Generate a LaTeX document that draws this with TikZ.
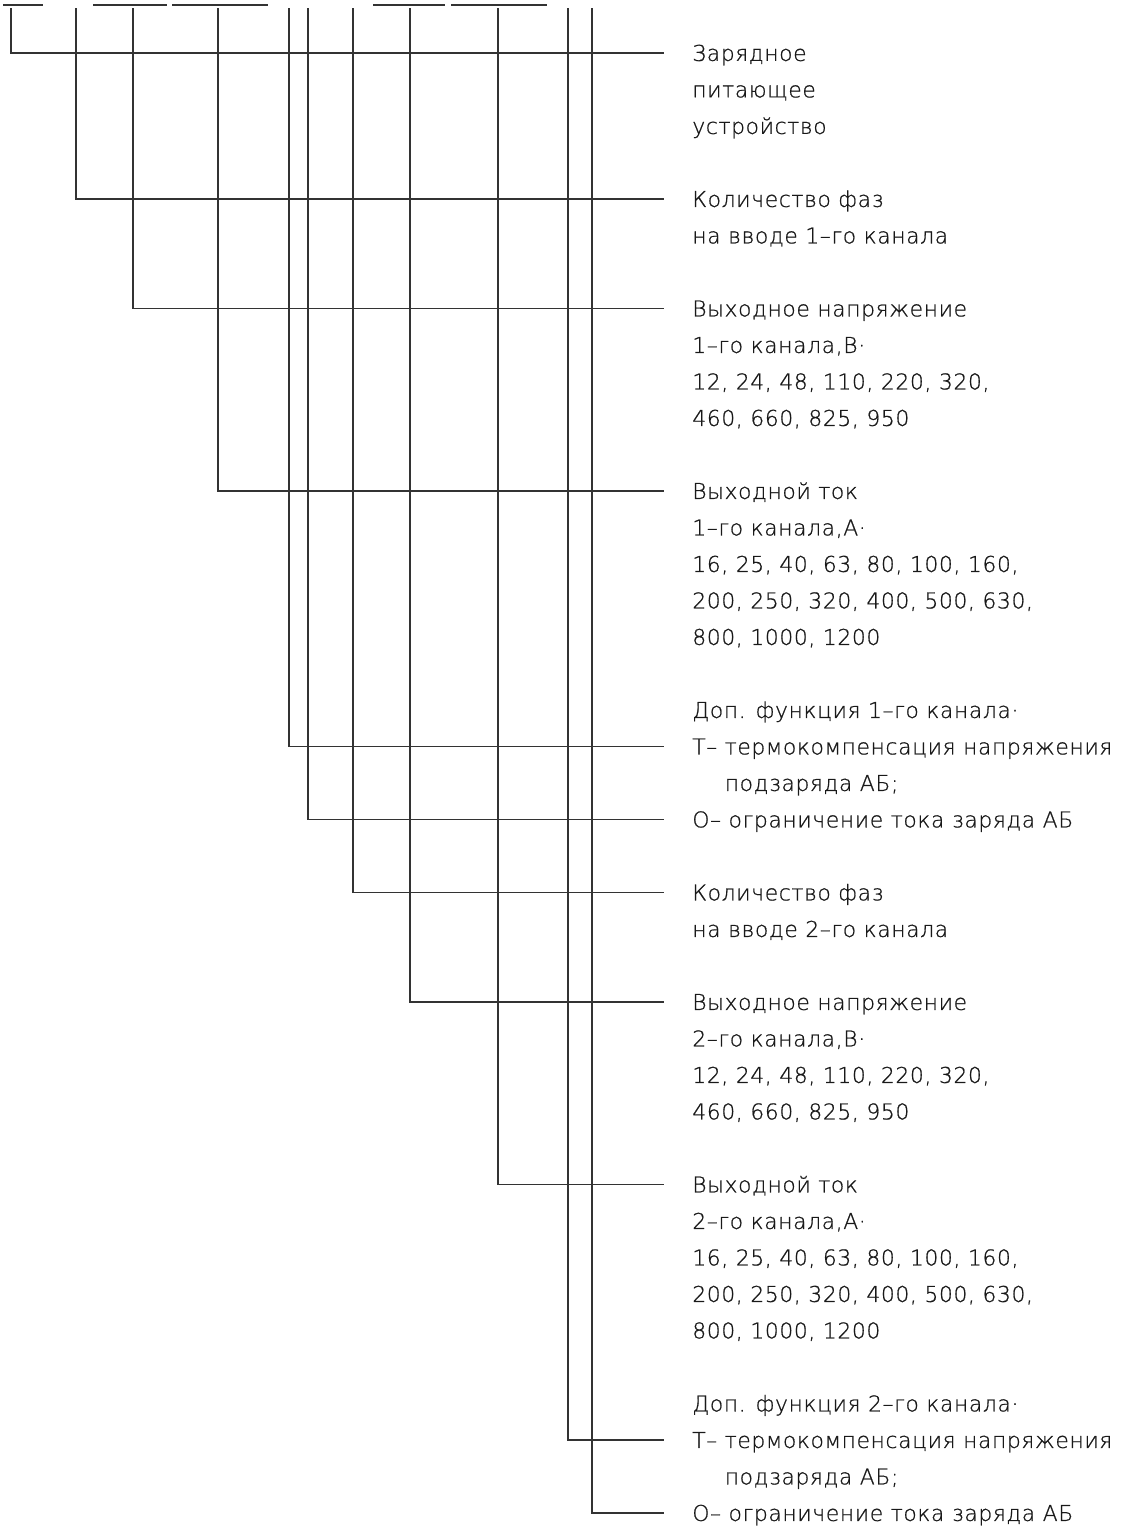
\documentclass[tikz,border=0pt]{standalone}
\usepackage{fontspec}
\setmainfont{DejaVu Sans ExtraLight}[LetterSpace=3, FakeBold=0.8]
\usetikzlibrary{positioning}
\def\Lx{664}
\def\Top{53}
\def\Step{36.5}
\def\Vtop{8}
\def\Ulny{5}

\tikzset{
  wire/.style={draw=black!80, line width=0.75pt},
  lbl/.style={anchor=west, inner xsep=0.56cm, inner ysep=0pt, text height=9pt, text depth=0pt,
    font=\fontsize{12.4}{14}\selectfont, text=black!90}
}

\begin{document}
\begin{tikzpicture}[x=0.02cm, y=-0.02cm]
\useasboundingbox (0,0) rectangle (1120,1529);

% underlines of the cut designation
\foreach \a/\b in {3/43, 93/167, 172/268, 373/445, 451/547}
  \draw[wire] (\a,\Ulny) -- (\b,\Ulny);

% channel 1
\node[lbl] (zpu) at (\Lx, \Top) {Зарядное};
\node[lbl] at (\Lx, {\Top+1*\Step}) {питающее};
\node[lbl] at (\Lx, {\Top+2*\Step}) {устройство};

\node[lbl] (phA) at (\Lx, {\Top+4*\Step}) {Количество фаз};
\node[lbl] at (\Lx, {\Top+5*\Step}) {на вводе 1–го канала};

\node[lbl] (uA) at (\Lx, {\Top+7*\Step}) {Выходное напряжение};
\node[lbl] at (\Lx, {\Top+8*\Step}) {1–го канала,В·};
\node[lbl] at (\Lx, {\Top+9*\Step}) {12, 24, 48, 110, 220, 320,};
\node[lbl] at (\Lx, {\Top+10*\Step}) {460, 660, 825, 950};

\node[lbl] (iA) at (\Lx, {\Top+12*\Step}) {Выходной ток};
\node[lbl] at (\Lx, {\Top+13*\Step}) {1–го канала,А·};
\node[lbl] at (\Lx, {\Top+14*\Step}) {16, 25, 40, 63, 80, 100, 160,};
\node[lbl] at (\Lx, {\Top+15*\Step}) {200, 250, 320, 400, 500, 630,};
\node[lbl] at (\Lx, {\Top+16*\Step}) {800, 1000, 1200};

\node[lbl] at (\Lx, {\Top+18*\Step}) {Доп. функция 1–го канала·};
\node[lbl] (fAt) at (\Lx, {\Top+19*\Step}) {Т– термокомпенсация напряжения};
\node[lbl] at (\Lx, {\Top+20*\Step}) {\hphantom{Т–}\ подзаряда АБ;};
\node[lbl] (fAo) at (\Lx, {\Top+21*\Step}) {О– ограничение тока заряда АБ};

% channel 2
\node[lbl] (phB) at (\Lx, {\Top+23*\Step}) {Количество фаз};
\node[lbl] at (\Lx, {\Top+24*\Step}) {на вводе 2–го канала};

\node[lbl] (uB) at (\Lx, {\Top+26*\Step}) {Выходное напряжение};
\node[lbl] at (\Lx, {\Top+27*\Step}) {2–го канала,В·};
\node[lbl] at (\Lx, {\Top+28*\Step}) {12, 24, 48, 110, 220, 320,};
\node[lbl] at (\Lx, {\Top+29*\Step}) {460, 660, 825, 950};

\node[lbl] (iB) at (\Lx, {\Top+31*\Step}) {Выходной ток};
\node[lbl] at (\Lx, {\Top+32*\Step}) {2–го канала,А·};
\node[lbl] at (\Lx, {\Top+33*\Step}) {16, 25, 40, 63, 80, 100, 160,};
\node[lbl] at (\Lx, {\Top+34*\Step}) {200, 250, 320, 400, 500, 630,};
\node[lbl] at (\Lx, {\Top+35*\Step}) {800, 1000, 1200};

\node[lbl] at (\Lx, {\Top+37*\Step}) {Доп. функция 2–го канала·};
\node[lbl] (fBt) at (\Lx, {\Top+38*\Step}) {Т– термокомпенсация напряжения};
\node[lbl] at (\Lx, {\Top+39*\Step}) {\hphantom{Т–}\ подзаряда АБ;};
\node[lbl] (fBo) at (\Lx, {\Top+40*\Step}) {О– ограничение тока заряда АБ};

% leader lines
\foreach \x/\n in {11/zpu, 76/phA, 133/uA, 218/iA, 289/fAt, 308/fAo,
                   353/phB, 410/uB, 498/iB, 568/fBt, 592/fBo} {
  \coordinate (top-\n) at (\x, \Vtop);
  \draw[wire] (top-\n) |- (\n.west);
}
\end{tikzpicture}
\end{document}
